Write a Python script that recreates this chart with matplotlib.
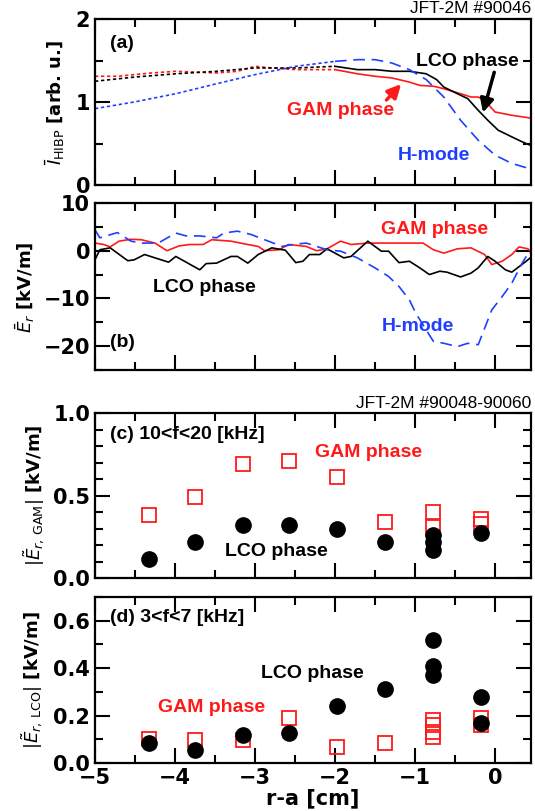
import numpy as np
import matplotlib.pyplot as plt
from matplotlib.ticker import MultipleLocator

plt.rcParams['mathtext.fontset'] = 'dejavusans'

# (a) HIBP intensity profiles  (x < -2 drawn dotted, x >= -2 solid)
a_lco_x_in = [-5.0, -4.51, -3.99, -3.48, -3.0, -2.49, -2.0]
a_lco_y_in = [1.25, 1.30, 1.34, 1.37, 1.41, 1.41, 1.43]
a_lco_x = [-2.0, -1.72, -1.5, -1.29, -1.07, -0.86, -0.73, -0.64, -0.47, -0.34, -0.21, -0.09, 0.04, 0.21, 0.34, 0.49]
a_lco_y = [1.43, 1.39, 1.39, 1.37, 1.37, 1.34, 1.27, 1.18, 1.10, 1.04, 0.90, 0.78, 0.66, 0.58, 0.52, 0.46]
a_gam_x_in = [-5.0, -4.72, -4.29, -3.99, -3.48, -3.22, -3.0, -2.79, -2.49, -2.19, -2.0]
a_gam_y_in = [1.31, 1.31, 1.35, 1.37, 1.35, 1.37, 1.43, 1.41, 1.39, 1.39, 1.39]
a_gam_x = [-2.0, -1.72, -1.5, -1.29, -1.07, -0.94, -0.77, -0.64, -0.43, -0.30, -0.21, -0.13, 0.0, 0.21, 0.49]
a_gam_y = [1.39, 1.34, 1.31, 1.29, 1.24, 1.20, 1.19, 1.16, 1.10, 1.06, 1.06, 1.02, 0.88, 0.84, 0.80]
a_h_x_in = [-5.0, -4.51, -3.99, -3.48, -3.0, -2.49, -2.0]
a_h_y_in = [0.92, 1.00, 1.10, 1.22, 1.33, 1.43, 1.49]
a_h_x = [-2.0, -1.72, -1.5, -1.29, -1.07, -0.86, -0.64, -0.43, -0.21, 0.0, 0.21, 0.49]
a_h_y = [1.49, 1.51, 1.51, 1.47, 1.39, 1.27, 1.06, 0.78, 0.54, 0.36, 0.26, 0.18]

# (b) mean Er profiles
b_gam_x = [-5.0, -4.89, -4.81, -4.70, -4.55, -4.42, -4.25, -4.10, -3.95, -3.82, -3.65, -3.54, -3.30, -3.09,
           -2.96, -2.88, -2.70, -2.58, -2.36, -2.23, -2.10, -1.93, -1.80, -1.59, -1.42, -1.24, -1.07, -0.90,
           -0.77, -0.64, -0.47, -0.30, -0.13, -0.04, 0.09, 0.21, 0.30, 0.41, 0.47]
b_gam_y = [1.6, 1.3, 0.8, 2.0, 2.4, 2.3, 1.6, 0.0, 1.0, 1.3, 1.3, 2.3, 2.0, 1.3,
           0.9, 0.0, 0.2, 1.3, 0.9, 0.0, 0.4, 2.0, 1.3, 1.6, 1.6, 1.6, 1.6, 1.6,
           0.2, -0.5, 0.4, 0.6, -0.8, -2.9, -2.2, -0.8, 0.8, 0.4, -0.5]
b_lco_x = [-5.0, -4.94, -4.81, -4.59, -4.51, -4.38, -4.25, -4.08, -3.99, -3.69, -3.61, -3.48, -3.30, -3.22,
           -3.09, -2.96, -2.79, -2.62, -2.49, -2.40, -2.32, -2.19, -2.10, -1.89, -1.80, -1.59, -1.42, -1.33,
           -1.20, -1.07, -0.94, -0.82, -0.69, -0.60, -0.43, -0.30, -0.21, -0.09, 0.0, 0.13, 0.21, 0.39, 0.49]
b_lco_y = [-1.9, 0.2, 0.6, -2.1, -1.9, -0.8, -1.5, -2.4, -1.2, -4.0, -2.7, -2.6, -1.2, -1.2,
           -2.6, -0.8, 0.6, 0.1, -2.5, -2.2, -0.8, -0.8, 0.4, -1.5, -1.2, 2.0, -0.1, -0.1,
           -2.5, -2.2, -3.6, -5.0, -4.3, -4.5, -5.5, -4.7, -3.6, -1.2, -2.2, -4.0, -4.5, -2.2, -0.8]
b_h_x = [-5.0, -4.94, -4.72, -4.55, -4.42, -4.21, -3.99, -3.86, -3.69, -3.48, -3.39, -3.22, -3.05, -2.88,
         -2.66, -2.53, -2.36, -2.23, -2.10, -1.93, -1.72, -1.50, -1.33, -1.20, -1.07, -0.99, -0.86, -0.77,
         -0.64, -0.47, -0.34, -0.21, -0.04, 0.09, 0.21, 0.34, 0.43, 0.49]
b_h_y = [4.4, 2.7, 3.8, 2.0, 1.6, 1.6, 3.7, 3.1, 3.1, 2.7, 3.7, 4.1, 3.4, 2.3,
         0.9, 1.3, 1.6, 0.9, 0.2, -0.1, -1.5, -3.6, -5.4, -7.5, -10.3, -13.1, -16.6, -19.0,
         -19.4, -20.1, -19.4, -19.7, -12.4, -9.6, -6.8, -2.6, -0.1, -1.2]

# (c) GAM band amplitude
c_gam_x = [-4.33, -3.75, -3.15, -2.57, -1.98, -1.38, -0.78, -0.78, -0.18, -0.18]
c_gam_y = [0.38, 0.49, 0.69, 0.71, 0.61, 0.34, 0.40, 0.31, 0.36, 0.33]
c_lco_x = [-4.33, -3.75, -3.15, -2.57, -1.98, -1.38, -0.78, -0.78, -0.78, -0.18]
c_lco_y = [0.115, 0.22, 0.32, 0.32, 0.30, 0.22, 0.26, 0.22, 0.17, 0.27]

# (d) LCO band amplitude
d_gam_x = [-4.33, -3.75, -3.15, -2.57, -1.98, -1.38, -0.78, -0.78, -0.78, -0.78, -0.18, -0.18]
d_gam_y = [0.10, 0.098, 0.095, 0.19, 0.067, 0.086, 0.18, 0.16, 0.13, 0.11, 0.19, 0.16]
d_lco_x = [-4.33, -3.75, -3.15, -2.57, -1.98, -1.38, -0.78, -0.78, -0.78, -0.18, -0.18]
d_lco_y = [0.084, 0.053, 0.12, 0.126, 0.24, 0.31, 0.52, 0.41, 0.37, 0.28, 0.17]

RED = '#ff1a1a'
BLUE = '#1f3fff'
ann = dict(fontsize=14, fontweight='bold', family='Liberation Sans')

W, H = 535, 811
fig = plt.figure(figsize=(W / 100, H / 100), dpi=100)
left, right = 95, 531
boxes = [(19, 185), (203, 370), (413, 578), (597, 763)]
axs = []
for top, bot in boxes:
    ax = fig.add_axes([left / W, 1 - bot / H, (right - left) / W, (bot - top) / H])
    axs.append(ax)

for ax in axs:
    ax.set_xlim(-5, 0.45)
    ax.xaxis.set_major_locator(MultipleLocator(1))
    ax.xaxis.set_minor_locator(MultipleLocator(0.5))
    ax.tick_params(which='both', direction='in', top=True, right=True, width=1.5)
    ax.tick_params(which='major', length=11, labelsize=15)
    ax.tick_params(which='minor', length=6)
    for s in ax.spines.values():
        s.set_linewidth(1.6)
    if ax is not axs[-1]:
        ax.tick_params(labelbottom=False)

# (a)
ax = axs[0]
dot = (0, (2, 1.6))
ax.plot(a_gam_x_in, a_gam_y_in, color=RED, lw=1.2, ls=dot)
ax.plot(a_lco_x_in, a_lco_y_in, color='k', lw=1.2, ls=dot)
ax.plot(a_h_x_in, a_h_y_in, color=BLUE, lw=1.2, ls=dot)
ax.plot(a_gam_x, a_gam_y, color=RED, lw=1.2)
ax.plot(a_lco_x, a_lco_y, color='k', lw=1.2)
ax.plot(a_h_x, a_h_y, color=BLUE, lw=1.2, ls=(0, (7, 4)))
ax.set_ylim(0, 2)
ax.yaxis.set_major_locator(MultipleLocator(1))
ax.yaxis.set_minor_locator(MultipleLocator(0.5))
ax.text(-4.81, 1.71, '(a)', va='center', **ann)
ax.text(-0.99, 1.49, 'LCO phase', va='center', color='k', **ann)
ax.text(-2.6, 0.90, 'GAM phase', va='center', color=RED, **ann)
ax.text(-1.22, 0.36, 'H-mode', va='center', color=BLUE, **ann)
ax.annotate('', xy=(-1.15, 1.24), xytext=(-1.38, 1.0),
            arrowprops=dict(arrowstyle='-|>', color=RED, lw=2.5, mutation_scale=20))
ax.annotate('', xy=(-0.16, 0.84), xytext=(0.0, 1.39),
            arrowprops=dict(arrowstyle='-|>', color='k', lw=2.5, mutation_scale=20))
ax.text(1.0, 1.02, 'JFT-2M #90046', transform=ax.transAxes, ha='right', va='bottom',
        fontsize=12.5, family='Liberation Sans')
fig.text(55 / W, 1 - 102 / H, r'$\bar{I}_{\rm HIBP}$ [arb. u.]', rotation=90, ha='center', va='center',
         fontsize=13, fontweight='bold')

# (b)
ax = axs[1]
ax.plot(b_gam_x, b_gam_y, color=RED, lw=1.2)
ax.plot(b_lco_x, b_lco_y, color='k', lw=1.2)
ax.plot(b_h_x, b_h_y, color=BLUE, lw=1.2, ls=(0, (7, 4)))
ax.set_ylim(-25, 10)
ax.yaxis.set_major_locator(MultipleLocator(10))
ax.yaxis.set_minor_locator(MultipleLocator(5))
ax.text(-4.81, -19.3, '(b)', va='center', **ann)
ax.text(-1.42, 4.4, 'GAM phase', va='center', color=RED, **ann)
ax.text(-4.27, -7.8, 'LCO phase', va='center', color='k', **ann)
ax.text(-1.42, -15.9, 'H-mode', va='center', color=BLUE, **ann)
fig.text(25 / W, 1 - 287 / H, r'$\bar{E}_r$ [kV/m]', rotation=90, ha='center', va='center',
         fontsize=13, fontweight='bold')

# (c)
ax = axs[2]
ax.plot(c_gam_x, c_gam_y, ls='none', marker='s', ms=10, mfc='none', mec=RED, mew=1.3)
ax.plot(c_lco_x, c_lco_y, ls='none', marker='o', ms=11, color='k')
ax.set_ylim(0, 1)
ax.yaxis.set_major_locator(MultipleLocator(0.5))
ax.yaxis.set_minor_locator(MultipleLocator(0.1))
ax.yaxis.set_major_formatter(plt.FormatStrFormatter('%.1f'))
ax.text(-4.81, 0.87, '(c) 10<f<20 [kHz]', va='center', **ann)
ax.text(-2.25, 0.76, 'GAM phase', va='center', color=RED, **ann)
ax.text(-3.37, 0.16, 'LCO phase', va='center', color='k', **ann)
ax.text(1.0, 1.015, 'JFT-2M #90048-90060', transform=ax.transAxes, ha='right', va='bottom',
        fontsize=12.5, family='Liberation Sans')
fig.text(34 / W, 1 - 495 / H, r'$|\tilde{E}_{r,\,{\rm GAM}}|$ [kV/m]', rotation=90, ha='center',
         va='center', fontsize=13, fontweight='bold')

# (d)
ax = axs[3]
ax.plot(d_gam_x, d_gam_y, ls='none', marker='s', ms=10, mfc='none', mec=RED, mew=1.3)
ax.plot(d_lco_x, d_lco_y, ls='none', marker='o', ms=11, color='k')
ax.set_ylim(0, 0.7)
ax.yaxis.set_major_locator(MultipleLocator(0.2))
ax.yaxis.set_minor_locator(MultipleLocator(0.1))
ax.yaxis.set_major_formatter(plt.FormatStrFormatter('%.1f'))
ax.text(-4.81, 0.614, '(d) 3<f<7 [kHz]', va='center', **ann)
ax.text(-2.92, 0.376, 'LCO phase', va='center', color='k', **ann)
ax.text(-4.21, 0.236, 'GAM phase', va='center', color=RED, **ann)
ax.set_xlabel('r-a [cm]', fontsize=15, fontweight='bold', labelpad=0)
fig.text(32 / W, 1 - 680 / H, r'$|\tilde{E}_{r,\,{\rm LCO}}|$ [kV/m]', rotation=90, ha='center',
         va='center', fontsize=13, fontweight='bold')

for ax in axs:
    for lab in ax.get_xticklabels() + ax.get_yticklabels():
        lab.set_fontweight('bold')

fig.savefig('out.png', dpi=100)
